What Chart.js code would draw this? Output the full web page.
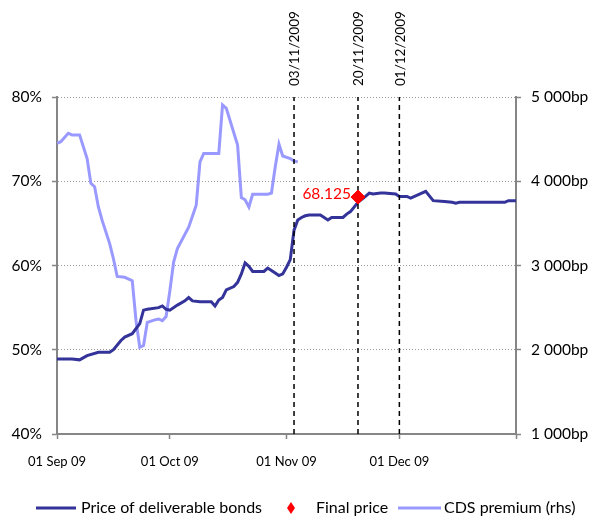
<!DOCTYPE html>
<html lang="en">
<head>
  <meta charset="UTF-8">
  <title>Deliverable bonds and CDS premium</title>
  <script src="https://cdn.jsdelivr.net/npm/chart.js"></script>
  <style>
    html, body { margin: 0; padding: 0; background: #fff; }
    #wrap { width: 592px; height: 516px; }
  </style>
</head>
<body>
  <div id="wrap"><canvas id="chart" width="592" height="516"></canvas></div>
  <script>
    // x values are days counted from 01 Sep 2009
    const priceDay = [0, 4, 6, 8, 11, 14, 15, 17, 18, 20, 22, 23, 24, 27, 28, 29, 30, 32, 34, 35, 36, 38, 41, 42, 43, 44, 45, 47, 48, 49, 50, 51, 52, 55, 56, 57, 59, 60, 61, 62, 63, 64, 65, 66, 67, 70, 72, 73, 76, 77, 78, 80, 82, 83, 84, 86, 87, 90, 91, 93, 94, 98, 100, 103, 105, 106, 107, 112, 119, 120, 122];
    const priceValue = [48.9, 48.9, 48.8, 49.3, 49.7, 49.7, 50.0, 51.1, 51.5, 51.9, 53.1, 54.7, 54.8, 55.0, 55.2, 54.8, 54.7, 55.3, 55.8, 56.2, 55.8, 55.7, 55.7, 55.2, 55.9, 56.2, 57.1, 57.5, 58.0, 59.0, 60.3, 59.9, 59.3, 59.3, 59.7, 59.4, 58.8, 59.0, 59.8, 60.7, 64.2, 65.4, 65.7, 65.9, 66.0, 66.0, 65.4, 65.7, 65.7, 66.1, 66.4, 67.5, 68.2, 68.6, 68.5, 68.6, 68.6, 68.5, 68.2, 68.2, 68.0, 68.8, 67.7, 67.6, 67.5, 67.4, 67.5, 67.5, 67.5, 67.7, 67.7];

    const cdsDay = [0, 1, 3, 4, 6, 8, 9, 10, 11, 12, 14, 15, 16, 18, 20, 21, 22, 23, 24, 26, 27, 28, 29, 30, 31, 32, 35, 37, 38, 39, 43, 44, 45, 48, 49, 50, 51, 52, 56, 57, 58, 59, 60, 62, 63, 64];
    const cdsValue = [4450, 4470, 4570, 4550, 4550, 4270, 3975, 3935, 3695, 3535, 3260, 3080, 2870, 2860, 2820, 2345, 2030, 2050, 2325, 2355, 2365, 2345, 2395, 2700, 3040, 3200, 3455, 3715, 4230, 4330, 4330, 4905, 4865, 4430, 3805, 3780, 3695, 3845, 3845, 3860, 4170, 4440, 4300, 4270, 4240, 4230];

    const finalDay = 80;
    const finalPrice = 68.125;

    const eventDay = [63, 80, 91];
    const eventLabel = ['03/11/2009', '20/11/2009', '01/12/2009'];

    const tickDay = [0, 30, 61, 91, 122];
    const tickLabel = ['01 Sep 09', '01 Oct 09', '01 Nov 09', '01 Dec 09', ''];

    const FONT = 'Lato, "Open Sans", sans-serif';
    const AXIS = '#868686';

    const toPoints = (xs, ys) => xs.map((x, i) => ({ x: x, y: ys[i] }));

    const datasets = [
      {
        label: 'Price of deliverable bonds',
        data: toPoints(priceDay, priceValue),
        borderColor: '#333399',
        borderWidth: 3,
        pointRadius: 0,
        yAxisID: 'y',
        order: 2
      },
      {
        label: 'Final price',
        data: [{ x: finalDay, y: finalPrice }],
        showLine: false,
        pointStyle: 'rectRot',
        pointRadius: 7,
        pointBackgroundColor: '#ff0000',
        pointBorderColor: '#ff0000',
        borderColor: '#ff0000',
        backgroundColor: '#ff0000',
        yAxisID: 'y',
        order: 0
      },
      {
        label: 'CDS premium (rhs)',
        data: toPoints(cdsDay, cdsValue),
        borderColor: '#9999ff',
        borderWidth: 3,
        pointRadius: 0,
        yAxisID: 'y2',
        order: 3
      }
    ];

    eventDay.forEach(d => {
      datasets.push({
        label: '',
        data: [{ x: d, y: 40 }, { x: d, y: 80 }],
        borderColor: '#000',
        borderWidth: 1.5,
        borderDash: [5, 4],
        pointRadius: 0,
        yAxisID: 'y',
        order: 1
      });
    });

    // rotated date labels above the dashed lines, value label next to the diamond
    const annotations = {
      id: 'annotations',
      afterDatasetsDraw(chart) {
        const { ctx, scales } = chart;
        ctx.save();
        ctx.font = '13.5px ' + FONT;
        ctx.fillStyle = '#000';
        ctx.textAlign = 'left';
        ctx.textBaseline = 'middle';
        eventDay.forEach((d, i) => {
          const x = scales.x.getPixelForValue(d) + 1;
          ctx.save();
          ctx.translate(x, chart.chartArea.top - 11);
          ctx.rotate(-Math.PI / 2);
          ctx.fillText(eventLabel[i], 0, 0);
          ctx.restore();
        });
        const px = scales.x.getPixelForValue(finalDay);
        const py = scales.y.getPixelForValue(finalPrice);
        ctx.font = '15.5px ' + FONT;
        ctx.fillStyle = '#ff0000';
        ctx.textAlign = 'right';
        ctx.fillText(finalPrice.toFixed(3), px - 7, py - 3);
        ctx.restore();
      }
    };

    // legend drawn under the axis from the dataset styles
    const bottomLegend = {
      id: 'bottomLegend',
      afterDraw(chart) {
        const { ctx } = chart;
        const ds = chart.data.datasets;
        const y = 508;
        ctx.save();
        ctx.font = '16px ' + FONT;
        ctx.fillStyle = '#000';
        ctx.textAlign = 'left';
        ctx.textBaseline = 'middle';
        ctx.lineWidth = 3;

        ctx.strokeStyle = ds[0].borderColor;
        ctx.beginPath(); ctx.moveTo(36, y); ctx.lineTo(76, y); ctx.stroke();
        ctx.fillText(ds[0].label, 81, y);

        ctx.fillStyle = ds[1].pointBackgroundColor;
        ctx.beginPath();
        ctx.moveTo(291, y - 6); ctx.lineTo(295, y); ctx.lineTo(291, y + 6); ctx.lineTo(287, y);
        ctx.closePath(); ctx.fill();
        ctx.fillStyle = '#000';
        ctx.fillText(ds[1].label, 316, y);

        ctx.strokeStyle = ds[2].borderColor;
        ctx.beginPath(); ctx.moveTo(398, y); ctx.lineTo(441, y); ctx.stroke();
        ctx.fillText(ds[2].label, 444, y);
        ctx.restore();
      }
    };

    new Chart(document.getElementById('chart'), {
      type: 'line',
      data: { datasets: datasets },
      options: {
        responsive: false,
        animation: false,
        layout: { padding: { top: 97, left: 0, right: 0, bottom: 0 } },
        plugins: {
          legend: { display: false },
          tooltip: { enabled: false }
        },
        scales: {
          x: {
            type: 'linear',
            min: 0,
            max: 122,
            afterBuildTicks: axis => { axis.ticks = tickDay.map(v => ({ value: v })); },
            afterFit: axis => { axis.height = 82; },
            ticks: {
              autoSkip: false,
              maxRotation: 0,
              padding: 15,
              color: '#000',
              font: { family: FONT, size: 13 },
              callback: (v) => tickLabel[tickDay.indexOf(v)]
            },
            grid: { drawOnChartArea: false, tickLength: 5, tickColor: AXIS, tickWidth: 1.5 },
            border: { color: AXIS, width: 2 }
          },
          y: {
            position: 'left',
            min: 40,
            max: 80,
            afterFit: axis => { axis.width = 57; },
            ticks: {
              stepSize: 10,
              padding: 10,
              color: '#000',
              font: { family: FONT, size: 15.5 },
              callback: v => v + '%'
            },
            grid: { color: '#999', lineWidth: 1, tickLength: 5, tickColor: AXIS, tickWidth: 1.5 },
            border: { color: AXIS, width: 2, dash: [1, 2] }
          },
          y2: {
            position: 'right',
            min: 1000,
            max: 5000,
            afterFit: axis => { axis.width = 76; },
            ticks: {
              stepSize: 1000,
              padding: 10,
              color: '#000',
              font: { family: FONT, size: 15.5 },
              callback: v => String(v).replace(/\B(?=(\d{3})+(?!\d))/g, ' ') + 'bp'
            },
            grid: { drawOnChartArea: false, tickLength: 5, tickColor: AXIS, tickWidth: 1.5 },
            border: { color: AXIS, width: 2 }
          }
        }
      },
      plugins: [annotations, bottomLegend]
    });
  </script>
</body>
</html>
